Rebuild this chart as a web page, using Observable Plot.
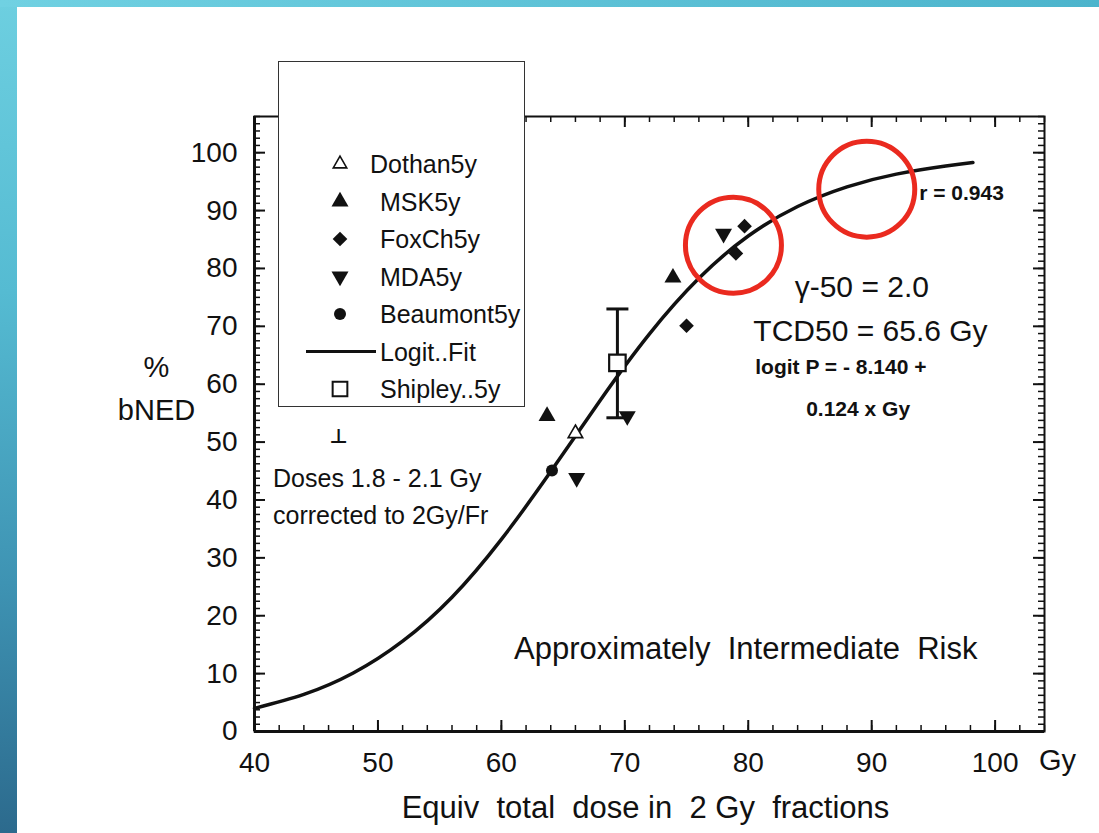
<!DOCTYPE html>
<html><head><meta charset="utf-8">
<script src="https://cdn.jsdelivr.net/npm/d3@7"></script>
<script src="https://cdn.jsdelivr.net/npm/@observablehq/plot@0.6"></script>
<style>
html,body{margin:0;padding:0;width:1099px;height:833px;overflow:hidden;background:#fff;font-family:"Liberation Sans",Arial,sans-serif;}
#left{position:absolute;left:0;top:0;width:17px;height:833px;background:linear-gradient(180deg,#6dcfe0 0%,#55bbd2 35%,#3e93b3 70%,#2c6a8d 100%);}
#top{position:absolute;left:0;top:0;width:1099px;height:7px;background:linear-gradient(90deg,#70d1e2,#4cb4cc);}
#chart{position:absolute;left:0;top:0;}
#chart svg text{white-space:pre;}
#legend{position:absolute;left:278px;top:61px;width:245px;height:344px;border:1.5px solid #333;background:#fff;}
</style></head><body>
<div id="left"></div><div id="top"></div>
<div id="chart"></div>
<div id="legend"></div>
<script>
// ---- data ----
const xTicks = [40, 50, 60, 70, 80, 90, 100];
const yTicks = [0, 10, 20, 30, 40, 50, 60, 70, 80, 90, 100];
const dothanX = [66.0], dothanY = [51.5];
const mskX = [63.7, 73.9], mskY = [54.5, 78.4];
const foxchX = [75.0, 79.0, 79.7], foxchY = [70.1, 82.6, 87.3];
const mdaX = [66.1, 70.2, 78.0], mdaY = [43.8, 54.5, 86.0];
const beaumontX = [64.1], beaumontY = [45.1];
const shipleyX = [69.4], shipleyY = [63.7], shipleyLo = [54.2], shipleyHi = [73.0];
const fitDose = [40, 44, 48, 52, 56, 60, 64, 68, 72, 76, 80, 84, 88, 92, 96, 98.2];
const fitPct  = [4.0, 6.4, 10.1, 15.6, 23.2, 33.2, 44.9, 57.2, 68.7, 78.3, 85.6, 90.7, 94.1, 96.3, 97.7, 98.3];
const highlightX = [78.8, 89.6], highlightY = [84.0, 93.7];
const legendNames = ["Dothan5y", "MSK5y", "FoxCh5y", "MDA5y", "Beaumont5y", "Logit..Fit", "Shipley..5y"];
const xLabel = "Equiv  total  dose in  2 Gy  fractions";
const yLabelLines = ["%", "bNED"];
const yLabelY = [62.8, 55.4];
const bigNotes = ["\u03b3-50 = 2.0", "TCD50 = 65.6 Gy"], bigNotesX = [89.2, 89.9], bigNotesY = [76.7, 69.2];
const boldNotes = ["logit P = - 8.140 +", "0.124 x Gy"], boldNotesX = [87.5, 88.9], boldNotesY = [63.0, 55.7];
const rNote = ["r = 0.943"], rNoteX = [93.85], rNoteY = [93.0];
const doseNotes = ["Doses 1.8 - 2.1 Gy", "corrected to 2Gy/Fr"], doseNotesX = [41.5, 41.5], doseNotesY = [43.6, 37.2];
const riskNote = ["Approximately  Intermediate  Risk"], riskX = [79.8], riskY = [14.3];
const errKey = ["\u22a5"], errKeyX = [46.8], errKeyY = [51.0];

// ---- layout ----
const W = 1099, H = 833, mL = 254, mR = 55, mT = 116, mB = 102;
const fw = W - mL - mR, fh = H - mT - mB;
const xMinor = d3.range(40, 104.001, 2);
const yMinor = d3.range(0, 106.26, 1.25);
const ink = "#111";
const pts = (xs, ys) => xs.map((x, i) => ({x, y: ys[i]}));

const downTriangle = {draw(ctx, size) {
  const s = Math.sqrt(size * 4 / Math.sqrt(3)), h = s * Math.sqrt(3) / 2;
  ctx.moveTo(0, h * 2 / 3); ctx.lineTo(s / 2, -h / 3); ctx.lineTo(-s / 2, -h / 3); ctx.closePath();
}};
const capBar = {draw(ctx) { ctx.moveTo(-11, 0); ctx.lineTo(11, 0); }};

const chart = Plot.plot({
  width: W, height: H, marginLeft: mL, marginRight: mR, marginTop: mT, marginBottom: mB,
  style: {background: "transparent", fontFamily: "Liberation Sans, Arial, sans-serif", color: ink},
  x: {domain: [40, 104]},
  y: {domain: [0, 106.25]},
  marks: [
    Plot.ruleX(xMinor, {insetTop: fh - 6, stroke: ink, strokeWidth: 1.5}),
    Plot.ruleX(xTicks, {insetTop: fh - 11, stroke: ink, strokeWidth: 2}),
    Plot.ruleX(xMinor, {insetBottom: fh - 6, stroke: ink, strokeWidth: 1.5}),
    Plot.ruleX(xTicks, {insetBottom: fh - 11, stroke: ink, strokeWidth: 2}),
    Plot.ruleY(yMinor, {insetRight: fw - 6, stroke: ink, strokeWidth: 1.5}),
    Plot.ruleY(yTicks, {insetRight: fw - 11, stroke: ink, strokeWidth: 2}),
    Plot.ruleY(yMinor, {insetLeft: fw - 6, stroke: ink, strokeWidth: 1.5}),
    Plot.ruleY(yTicks, {insetLeft: fw - 11, stroke: ink, strokeWidth: 2}),
    Plot.frame({stroke: ink, strokeWidth: 2}),
    Plot.ruleX([40], {stroke: ink, strokeWidth: 3}),
    Plot.ruleY([0], {stroke: ink, strokeWidth: 3}),
    Plot.axisX({ticks: xTicks, tickSize: 0, tickPadding: 21, fontSize: 28, label: null, tickFormat: d => String(d)}),
    Plot.axisY({ticks: yTicks, tickSize: 0, tickPadding: 17, fontSize: 28, label: null, tickFormat: d => String(d)}),
    Plot.text([xLabel], {frameAnchor: "bottom", lineAnchor: "middle", dx: -4, dy: 77, fontSize: 31, fill: ink}),
    Plot.text(["Gy"], {frameAnchor: "bottom-right", textAnchor: "middle", lineAnchor: "middle", dx: 13, dy: 29, fontSize: 29, fill: ink}),
    Plot.text(yLabelLines, {text: d => d, y: (d, i) => yLabelY[i], frameAnchor: "left", textAnchor: "middle", dx: -98, fontSize: 29, fill: ink}),
    // fit curve
    Plot.line(pts(fitDose, fitPct), {x: "x", y: "y", curve: "natural", stroke: ink, strokeWidth: 3.5}),
    // data
    Plot.ruleX(pts(shipleyX, shipleyY), {x: "x", y1: (d, i) => shipleyLo[i], y2: (d, i) => shipleyHi[i], stroke: ink, strokeWidth: 3}),
    Plot.dot(pts(shipleyX, shipleyLo), {x: "x", y: "y", symbol: capBar, fill: "none", stroke: ink, strokeWidth: 3}),
    Plot.dot(pts(shipleyX, shipleyHi), {x: "x", y: "y", symbol: capBar, fill: "none", stroke: ink, strokeWidth: 3}),
    Plot.dot(pts(shipleyX, shipleyY), {x: "x", y: "y", symbol: "square", r: 9.3, fill: "#fff", stroke: ink, strokeWidth: 2.2}),
    Plot.dot(pts(dothanX, dothanY), {x: "x", y: "y", symbol: "triangle", r: 5.4, fill: "#fff", stroke: ink, strokeWidth: 1.6}),
    Plot.dot(pts(mskX, mskY), {x: "x", y: "y", symbol: "triangle", r: 6.3, fill: ink, stroke: "none"}),
    Plot.dot(pts(foxchX, foxchY), {x: "x", y: "y", symbol: "diamond2", r: 6.6, fill: ink, stroke: "none"}),
    Plot.dot(pts(mdaX, mdaY), {x: "x", y: "y", symbol: downTriangle, r: 6.3, fill: ink, stroke: "none"}),
    Plot.dot(pts(beaumontX, beaumontY), {x: "x", y: "y", r: 6, fill: ink, stroke: "none"}),
    // annotations
    Plot.text(bigNotes, {text: d => d, x: (d, i) => bigNotesX[i], y: (d, i) => bigNotesY[i], fontSize: 30, fill: ink}),
    Plot.text(boldNotes, {text: d => d, x: (d, i) => boldNotesX[i], y: (d, i) => boldNotesY[i], fontSize: 21, fontWeight: "bold", fill: ink}),
    Plot.text(rNote, {text: d => d, x: (d, i) => rNoteX[i], y: (d, i) => rNoteY[i], fontSize: 21, fontWeight: "bold", textAnchor: "start", fill: ink}),
    Plot.text(doseNotes, {text: d => d, x: (d, i) => doseNotesX[i], y: (d, i) => doseNotesY[i], fontSize: 25, textAnchor: "start", fill: ink}),
    Plot.text(riskNote, {text: d => d, x: (d, i) => riskX[i], y: (d, i) => riskY[i], fontSize: 31, fill: ink}),
    Plot.text(errKey, {text: d => d, x: (d, i) => errKeyX[i], y: (d, i) => errKeyY[i], fontSize: 20, fontWeight: "bold", fontFamily: "DejaVu Sans", fill: ink}),
    // red highlight circles
    Plot.dot(pts(highlightX, highlightY), {x: "x", y: "y", r: 48, fill: "none", stroke: "#ea2a1f", strokeWidth: 5})
  ]
});
document.getElementById("chart").appendChild(chart);

// ---- legend box ----
const lg = d3.select("#legend").append("svg").attr("width", 245).attr("height", 344)
  .style("position", "absolute").style("left", "0px").style("top", "0px");
const rowY = i => 102 + i * 37.5;
const symX = 61;
const area = r => Math.PI * r * r;
legendNames.forEach((name, i) => {
  const g = lg.append("g").attr("transform", `translate(${symX},${rowY(i)})`);
  if (i === 0) g.append("path").attr("d", d3.symbol(d3.symbolTriangle, area(5.0))()).attr("fill", "#fff").attr("stroke", ink).attr("stroke-width", 1.6);
  if (i === 1) g.append("path").attr("d", d3.symbol(d3.symbolTriangle, area(6.3))()).attr("fill", ink);
  if (i === 2) g.append("path").attr("d", d3.symbol(d3.symbolDiamond2, area(6.6))()).attr("fill", ink);
  if (i === 3) g.append("path").attr("d", d3.symbol(d3.symbolTriangle, area(6.3))()).attr("transform", "rotate(180)").attr("fill", ink);
  if (i === 4) g.append("circle").attr("r", 6).attr("fill", ink);
  if (i === 5) g.append("line").attr("x1", -34).attr("x2", 36).attr("stroke", ink).attr("stroke-width", 3);
  if (i === 6) g.append("path").attr("d", d3.symbol(d3.symbolSquare, area(8.3))()).attr("fill", "#fff").attr("stroke", ink).attr("stroke-width", 2);
  lg.append("text").attr("x", i === 0 ? 91 : 101).attr("y", rowY(i)).attr("dy", "0.36em")
    .attr("font-size", 25).attr("font-family", "Liberation Sans, Arial, sans-serif").attr("fill", ink).text(name);
});
</script>
</body></html>
